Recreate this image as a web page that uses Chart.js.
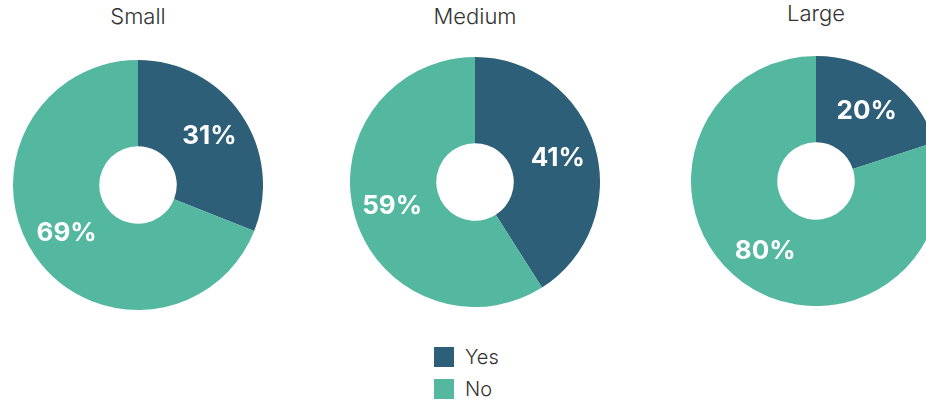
<!DOCTYPE html>
<html>
<head>
<meta charset="utf-8">
<script src="https://cdn.jsdelivr.net/npm/chart.js@4"></script>
<style>
  html, body { margin: 0; padding: 0; background: #fff; overflow: hidden; }
  #wrap { position: relative; width: 926px; height: 402px; overflow: hidden; }
  .ttl { position: absolute; font-family: "Inter", "Open Sans", sans-serif; font-size: 22px; font-weight: 300; color: #333; transform: translateX(-50%); white-space: nowrap; }
  canvas { position: absolute; }
  #legend { position: absolute; left: 434px; top: 341px; font-family: "Inter", "Open Sans", sans-serif; font-size: 20px; font-weight: 300; color: #333; }
  #legend .row { display: flex; align-items: center; height: 32px; }
  #legend .sw { width: 20px; height: 20px; margin-right: 11px; }
</style>
</head>
<body>
<div id="wrap"></div>
<script>
// Survey results by company size
const categories = ['Small', 'Medium', 'Large'];
const yesValues = [31, 41, 20];
const noValues = [69, 59, 80];
const seriesLabels = ['Yes', 'No'];
const seriesColors = ['#2e5f78', '#54b8a0'];

// Layout of each doughnut: centre and title position
const centers = [[138, 185], [475, 182], [816, 181]];
const titleTops = [3, 3, 0];
const radius = 125;

const wrap = document.getElementById('wrap');

// Percentage labels inside each slice
const sliceLabels = {
  id: 'sliceLabels',
  afterDatasetsDraw(chart) {
    const ctx = chart.ctx;
    const meta = chart.getDatasetMeta(0);
    const data = chart.data.datasets[0].data;
    ctx.save();
    ctx.fillStyle = '#ffffff';
    ctx.font = 'bold 26px "Inter", "Open Sans", sans-serif';
    ctx.textAlign = 'center';
    ctx.textBaseline = 'middle';
    meta.data.forEach((arc, i) => {
      const p = arc.getProps(['x', 'y', 'startAngle', 'endAngle', 'outerRadius'], true);
      const mid = (p.startAngle + p.endAngle) / 2;
      const r = p.outerRadius * 0.69;
      ctx.fillText(data[i] + '%', p.x + Math.cos(mid) * r, p.y + Math.sin(mid) * r);
    });
    ctx.restore();
  }
};

categories.forEach((cat, k) => {
  const [cx, cy] = centers[k];
  const t = document.createElement('div');
  t.className = 'ttl';
  t.style.left = cx + 'px';
  t.style.top = titleTops[k] + 'px';
  t.textContent = cat;
  wrap.appendChild(t);

  const c = document.createElement('canvas');
  c.width = radius * 2;
  c.height = radius * 2;
  c.style.left = (cx - radius) + 'px';
  c.style.top = (cy - radius) + 'px';
  wrap.appendChild(c);

  new Chart(c, {
    type: 'doughnut',
    data: {
      labels: seriesLabels,
      datasets: [{
        data: [yesValues[k], noValues[k]],
        backgroundColor: seriesColors,
        borderWidth: 0
      }]
    },
    options: {
      responsive: false,
      animation: false,
      cutout: '31%',
      layout: { padding: 0 },
      plugins: { legend: { display: false }, tooltip: { enabled: false } }
    },
    plugins: [sliceLabels]
  });
});

// Shared legend
const legend = document.createElement('div');
legend.id = 'legend';
seriesLabels.forEach((lab, i) => {
  const row = document.createElement('div');
  row.className = 'row';
  const sw = document.createElement('div');
  sw.className = 'sw';
  sw.style.background = seriesColors[i];
  const tx = document.createElement('span');
  tx.textContent = lab;
  row.appendChild(sw);
  row.appendChild(tx);
  legend.appendChild(row);
});
wrap.appendChild(legend);
</script>
</body>
</html>
